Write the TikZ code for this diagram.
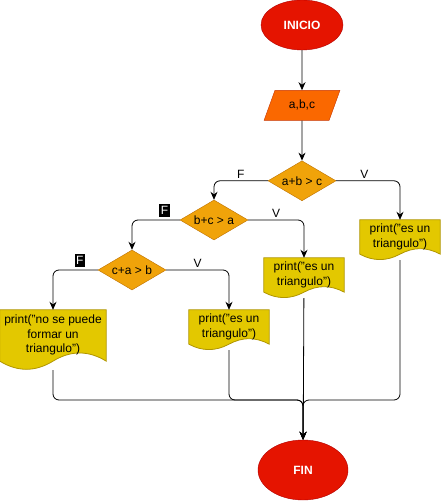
\documentclass[tikz,border=0pt]{standalone}
\usepackage{fontspec}
\setmainfont{Liberation Sans}
\usetikzlibrary{shapes.geometric,arrows.meta,positioning,calc,backgrounds}

\definecolor{termfill}{HTML}{E51400}
\definecolor{termline}{HTML}{B20000}
\definecolor{iofill}{HTML}{FA6800}
\definecolor{ioline}{HTML}{C73500}
\definecolor{decfill}{HTML}{F0A30A}
\definecolor{decline}{HTML}{BD7000}
\definecolor{docfill}{HTML}{E3C800}
\definecolor{docline}{HTML}{B09500}

% wavy "document" outline behind a named node
\newcommand{\docoutline}[1]{%
  \filldraw[fill=docfill, draw=docline, line width=0.8pt]
    let \p1=(#1.north west), \p2=(#1.south east),
        \n1={0.3*(\y1-\y2)}, \n2={\x2-\x1} in
    (\x1,\y1) -- (\x2,\y1) -- (\x2,\y2+0.5*\n1)
    .. controls (\x2-\n2/6,\y2+1.1*\n1) and (\x1+2*\n2/3,\y2+1.1*\n1) .. (\x1+0.5*\n2,\y2+0.5*\n1)
    .. controls (\x1+\n2/3,\y2-0.1*\n1) and (\x1+\n2/6,\y2-0.1*\n1) .. (\x1,\y2+0.5*\n1) -- cycle;}

\begin{document}
\begin{tikzpicture}[
      x=1pt, y=-1pt,
      font=\fontsize{12}{14.5}\selectfont,
      startstop/.style={
        ellipse,
        fill=termfill, draw=termline,
        text=white, font=\fontsize{12}{14}\selectfont\bfseries,
        inner sep=0pt
      },
      io/.style={
        trapezium, trapezium left angle=63, trapezium right angle=117,
        trapezium stretches=true,
        fill=iofill, draw=ioline,
        minimum width=76pt, minimum height=30pt,
        inner sep=0pt
      },
      decision/.style={
        diamond, aspect=1.7,
        fill=decfill, draw=decline,
        minimum width=68pt, minimum height=40pt,
        inner sep=0pt
      },
      docbox/.style={
        rectangle,
        minimum width=80pt, minimum height=40pt,
        inner sep=0pt, align=center, text depth=9pt
      },
      arrow/.style={
        -{Stealth[length=8pt,width=7pt]},
        line width=0.8pt, rounded corners=6pt
      },
      flag/.style={above=1pt, inner sep=1pt, sharp corners},
      flagdark/.style={flag, above=3pt, inner xsep=1.5pt, inner ysep=2pt, fill=black, text=white}
    ]
      \useasboundingbox (0,0) rectangle (442,502);

      \node[startstop, minimum width=82pt, minimum height=50pt] (inicio) at (302,25) {INICIO};
      \node[io, below=40pt of inicio] (datos) {a,b,c};
      \node[decision, below=40pt of datos] (c1) {a+b > c};
      \node[decision] (c2) at (214,220) {b+c > a};
      \node[decision] (c3) at (132,270) {c+a > b};

      \node[docbox] (doc1) at (400,240) {print("es un\\triangulo")};
      \node[docbox] (doc2) at (304,278) {print("es un\\triangulo")};
      \node[docbox, minimum width=106pt, minimum height=60pt, text depth=12pt] (doc3) at (53,340) {print("no se puede\\formar un\\triangulo")};
      \node[docbox] (doc4) at (229,330) {print("es un\\triangulo")};

      \node[startstop, minimum width=90pt, minimum height=60pt] (fin) at (303,470) {FIN};
      \coordinate (merge) at (303,400);

      \begin{scope}[on background layer]
        \foreach \d in {doc1,doc2,doc3,doc4} {\docoutline{\d}}
      \end{scope}

      \draw[arrow] (inicio) -- (datos);
      \draw[arrow] (datos) -- (c1);
      \draw[arrow] (c1.west) -| node[flag, pos=0.25] {F} (c2.north);
      \draw[arrow] (c1.east) -| node[flag, pos=0.22] {V} (doc1.north);
      \draw[arrow] (c2.west) -| node[flagdark, pos=0.16] {F} (c3.north);
      \draw[arrow] (c2.east) -| node[flag, pos=0.25] {V} (doc2.north);
      \draw[arrow] (c3.west) -| node[flagdark, pos=0.2] {F} (doc3.north);
      \draw[arrow] (c3.east) -| node[flag, pos=0.25] {V} (doc4.north);
      \foreach \d in {doc3,doc4,doc1}
        \draw[arrow] (\d.south) |- (merge) -- (fin.north);
      \draw[arrow] (doc2) -- (fin);
    \end{tikzpicture}
\end{document}
